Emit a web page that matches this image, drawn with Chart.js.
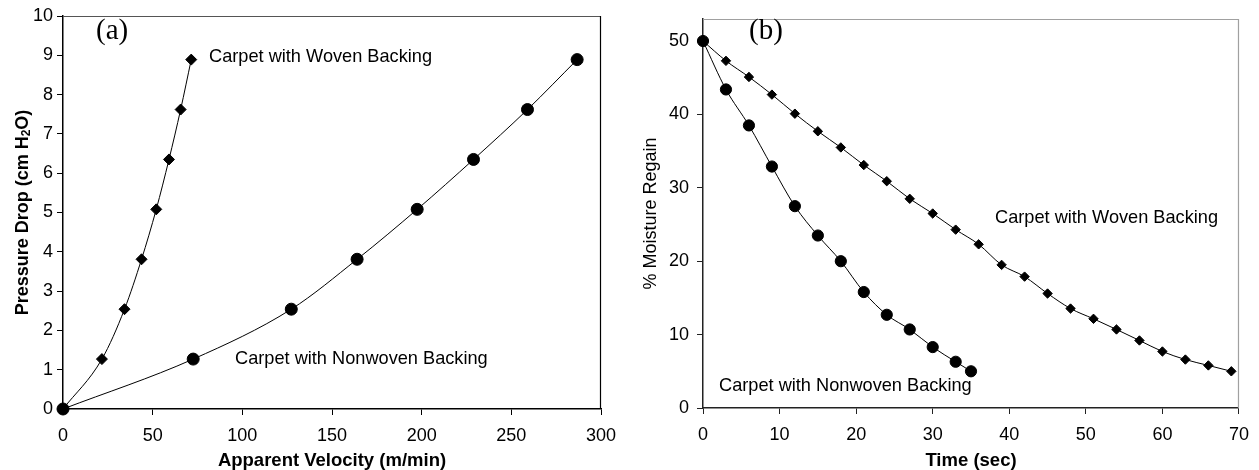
<!DOCTYPE html>
<html><head><meta charset="utf-8">
<script src="https://cdn.jsdelivr.net/npm/chart.js@4.4.1/dist/chart.umd.min.js"></script>
<style>
html,body{margin:0;padding:0;background:#fff;}
#wrap{position:relative;width:1259px;height:470px;}
.box{position:absolute;top:0;height:470px;}
</style></head><body>
<div id="wrap">
<div class="box" style="left:0;width:630px"><canvas id="c1"></canvas></div>
<div class="box" style="left:630px;width:629px"><canvas id="c2"></canvas></div>
</div>
<script>
// ---- Panel (a): pressure drop vs apparent velocity ----
const velWoven    = [0, 21.7, 34.3, 43.8, 52.0, 59.1, 65.6, 71.5];
const pdWoven     = [0, 1.27, 2.54, 3.81, 5.08, 6.35, 7.62, 8.89];
const velNonwoven = [0, 72.6, 127.3, 164.0, 197.5, 228.9, 259.0, 286.7];
const pdNonwoven  = [0, 1.27, 2.54, 3.81, 5.08, 6.35, 7.62, 8.89];
const ticksVel = [0, 50, 100, 150, 200, 250, 300];
const ticksPd  = [0, 1, 2, 3, 4, 5, 6, 7, 8, 9, 10];

// ---- Panel (b): moisture regain vs time ----
const timeWoven = [0, 3, 6, 9, 12, 15, 18, 21, 24, 27, 30, 33, 36, 39, 42, 45, 48, 51, 54, 57, 60, 63, 66, 69];
const mrWoven   = [50, 47.3, 45.1, 42.7, 40.1, 37.7, 35.5, 33.1, 30.9, 28.5, 26.5, 24.3, 22.3, 19.5, 17.9, 15.6, 13.55, 12.15, 10.7, 9.2, 7.7, 6.6, 5.8, 5.0];
const timeNonwoven = [0, 3, 6, 9, 12, 15, 18, 21, 24, 27, 30, 33, 35];
const mrNonwoven   = [50, 43.4, 38.5, 32.9, 27.5, 23.5, 20.0, 15.8, 12.7, 10.7, 8.3, 6.3, 5.0];
const ticksTime = [0, 10, 20, 30, 40, 50, 60, 70];
const ticksMr   = [0, 10, 20, 30, 40, 50];

const FONT = "'Liberation Sans', Arial, sans-serif";
const SERIF = "'Liberation Serif', 'Times New Roman', serif";

function pts(xs, ys){ return xs.map((x,i)=>({x:x, y:ys[i]})); }

function ds(label, xs, ys, style, r){
  return {label, data: pts(xs, ys), showLine:true, borderColor:'#000', borderWidth:1,
    backgroundColor:'#000', pointBackgroundColor:'#000', pointBorderColor:'#000',
    pointStyle:style, pointRadius:r, pointHoverRadius:r, pointBorderWidth:1,
    cubicInterpolationMode:'monotone', tension:0.4, clip:false};
}

function axis(min, max, ticks, fitProp, fitVal, pad, borderColor){
  return {type:'linear', min, max,
    afterBuildTicks: s => { s.ticks = ticks.map(v => ({value:v})); },
    afterFit: s => { s[fitProp] = fitVal; },
    grid:{display:true, drawOnChartArea:false, drawTicks:true, tickLength:6, color:borderColor, lineWidth:1},
    border:{display:true, color:borderColor, width:1.5},
    ticks:{color:'#000', font:{family:FONT, size:18}, padding:pad, maxRotation:0, autoSkip:false},
    title:{display:false}};
}

const decor = {
  id:'decor',
  beforeDatasetsDraw(chart){
    const o = chart.options.plugins.decor, a = chart.chartArea, ctx = chart.ctx;
    ctx.save();
    ctx.lineWidth = 1.2;
    ctx.strokeStyle = o.topColor;
    ctx.beginPath(); ctx.moveTo(a.left, a.top + 0.5); ctx.lineTo(a.right, a.top + 0.5); ctx.stroke();
    ctx.strokeStyle = o.rightColor;
    ctx.beginPath(); ctx.moveTo(a.right - 0.5, a.top); ctx.lineTo(a.right - 0.5, a.bottom); ctx.stroke();
    ctx.restore();
  },
  afterDraw(chart){
    const o = chart.options.plugins.decor, ctx = chart.ctx, a = chart.chartArea;
    ctx.save();
    ctx.fillStyle = '#000';
    // x axis title, centred on the plot area
    ctx.font = 'bold 18.5px ' + FONT;
    ctx.textAlign = 'center'; ctx.textBaseline = 'middle';
    ctx.fillText(o.xTitle, (a.left + a.right) / 2, 461);
    // y axis title (rotated, with optional subscript)
    ctx.save();
    ctx.translate(o.yTitle.x, (a.top + a.bottom) / 2);
    ctx.rotate(-Math.PI / 2);
    ctx.textBaseline = 'middle';
    const b = o.yTitle.bold ? 'bold ' : '';
    const mainFont = b + '18px ' + FONT;
    const subFont = b + '12px ' + FONT;
    const parts = o.yTitle.parts;
    let total = 0;
    parts.forEach(p => { ctx.font = p.sub ? subFont : mainFont; total += ctx.measureText(p.t).width; });
    let x = -total / 2;
    ctx.textAlign = 'left';
    parts.forEach(p => {
      ctx.font = p.sub ? subFont : mainFont;
      ctx.fillText(p.t, x, p.sub ? 4 : 0);
      x += ctx.measureText(p.t).width;
    });
    ctx.restore();
    // annotations
    ctx.textAlign = 'left'; ctx.textBaseline = 'middle';
    o.notes.forEach(n => {
      ctx.font = n.serif ? ('29px ' + SERIF) : ('18.2px ' + FONT);
      ctx.fillText(n.text, n.x, n.y);
    });
    ctx.restore();
  }
};

function makeChart(id, datasets, xs, ys, padding, decorOpts){
  return new Chart(document.getElementById(id), {
    type:'scatter',
    data:{datasets},
    options:{
      responsive:true, maintainAspectRatio:false, animation:false, devicePixelRatio:1,
      layout:{padding},
      scales:{x:xs, y:ys},
      plugins:{legend:{display:false}, tooltip:{enabled:false}, decor:decorOpts},
      events:[]
    },
    plugins:[decor]
  });
}

makeChart('c1',
  [ds('Carpet with Woven Backing', velWoven, pdWoven, 'rectRot', 5.5),
   ds('Carpet with Nonwoven Backing', velNonwoven, pdNonwoven, 'circle', 6)],
  axis(0, 300, ticksVel, 'height', 61, 10, '#000'),
  axis(0, 10, ticksPd, 'width', 63, 4, '#000'),
  {left:0, top:16, right:29, bottom:0},
  {topColor:'#555', rightColor:'#000',
   xTitle:'Apparent Velocity (m/min)',
   yTitle:{x:23, bold:true, parts:[{t:'Pressure Drop (cm H'},{t:'2', sub:true},{t:'O)'}]},
   notes:[{text:'(a)', x:96, y:31, serif:true},
          {text:'Carpet with Woven Backing', x:209, y:57},
          {text:'Carpet with Nonwoven Backing', x:235, y:359}]});

makeChart('c2',
  [ds('Carpet with Woven Backing', timeWoven, mrWoven, 'rectRot', 4.7),
   ds('Carpet with Nonwoven Backing', timeNonwoven, mrNonwoven, 'circle', 5.6)],
  axis(0, 70, ticksTime, 'height', 62, 10, '#222'),
  axis(0, 53, ticksMr, 'width', 73, 8, '#222'),
  {left:0, top:19, right:20, bottom:0},
  {topColor:'#a0a0a0', rightColor:'#a0a0a0',
   xTitle:'Time (sec)',
   yTitle:{x:21, bold:false, parts:[{t:'% Moisture Regain'}]},
   notes:[{text:'(b)', x:119, y:31, serif:true},
          {text:'Carpet with Woven Backing', x:365, y:218},
          {text:'Carpet with Nonwoven Backing', x:89, y:386}]});
</script>
</body></html>
